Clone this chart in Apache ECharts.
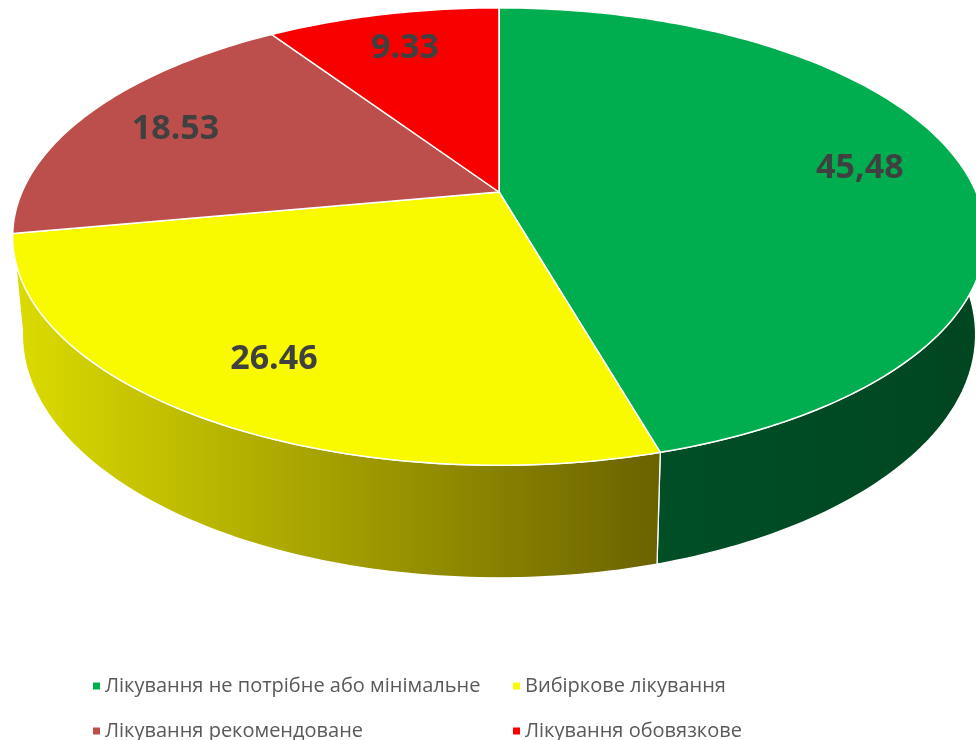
<!DOCTYPE html>
<html>
<head>
<meta charset="utf-8">
<script src="https://cdn.jsdelivr.net/npm/echarts@6/dist/echarts.min.js"></script>
<style>
  html, body { margin: 0; padding: 0; background: #fff; }
  #chart { width: 976px; height: 740px; }
</style>
</head>
<body>
<div id="chart"></div>
<script>
// дані діаграми
const names = [
  'Лікування не потрібне або мінімальне',
  'Вибіркове лікування',
  'Лікування рекомендоване',
  'Лікування обовязкове'
];
const values = [45.48, 26.46, 18.53, 9.33];
const labels = ['45,48', '26.46', '18.53', '9.33'];
const colors = ['#00AE4F', '#F9F900', '#BC4F4C', '#F90000'];
const sideColors = [
  ['#00532A', '#004620'],
  ['#DCDC00', '#6A6200'],
  ['#8A3836', '#6E2A28'],
  ['#B00000', '#900000']
];

// параметри "3D" проекції
const CX = 499, CY = 192, RX = 477, RY = 220, P = 0.195, DEPTH = 95, SHRINK = 0.98;
const total = values.reduce((a, b) => a + b, 0);
const starts = [];
let acc = 0;
values.forEach((v) => { starts.push(acc / total * Math.PI * 2); acc += v; });

function project(u, v, bottom) {
  const w = 1 - P * v;
  const s = bottom ? SHRINK : 1;
  return [CX + RX * u / w * s, CY + RY * v / w * s + (bottom ? DEPTH / w : 0)];
}
function rim(phi, r, bottom) {
  return project(r * Math.sin(phi), -r * Math.cos(phi), bottom);
}
function arc(a0, a1, bottom) {
  const n = Math.max(2, Math.ceil((a1 - a0) / (Math.PI / 180)));
  const pts = [];
  for (let k = 0; k <= n; k++) pts.push(rim(a0 + (a1 - a0) * k / n, 1, bottom));
  return pts;
}
function angles(i) {
  return [starts[i], starts[i] + values[i] / total * Math.PI * 2];
}

function renderWall(i) {
  return function () {
    const [a0, a1] = angles(i);
    const top = arc(a0, a1, false);
    const bot = arc(a0, a1, true).reverse();
    return {
      type: 'polygon',
      shape: { points: top.concat(bot) },
      style: {
        fill: new echarts.graphic.LinearGradient(0, 0, 1, 0, [
          { offset: 0, color: sideColors[i][0] },
          { offset: 1, color: sideColors[i][1] }
        ]),
        stroke: '#fff',
        lineWidth: 1.3,
        lineJoin: 'round'
      }
    };
  };
}

function renderTop(i) {
  return function () {
    const [a0, a1] = angles(i);
    const pts = [project(0, 0, false)].concat(arc(a0, a1, false));
    const mid = (a0 + a1) / 2;
    const lp = rim(mid, 0.78, false);
    return {
      type: 'group',
      children: [
        {
          type: 'polygon',
          shape: { points: pts },
          style: { fill: colors[i], stroke: '#fff', lineWidth: 1.5, lineJoin: 'round' }
        },
        {
          type: 'text',
          z2: 10,
          style: {
            text: labels[i],
            x: lp[0],
            y: lp[1],
            align: 'center',
            verticalAlign: 'middle',
            fill: '#404040',
            font: 'bold 34px "Open Sans"'
          }
        }
      ]
    };
  };
}

const wallOrder = [3, 2, 0, 1];
const series = [];
wallOrder.forEach((i) => {
  series.push({
    type: 'custom', name: names[i], coordinateSystem: 'none', z: 1,
    silent: true, itemStyle: { color: colors[i] },
    data: [values[i]], renderItem: renderWall(i)
  });
});
names.forEach((n, i) => {
  series.push({
    type: 'custom', name: n, coordinateSystem: 'none', z: 2,
    silent: true, itemStyle: { color: colors[i] },
    data: [values[i]], renderItem: renderTop(i)
  });
});

const chart = echarts.init(document.getElementById('chart'));
chart.setOption({
  animation: false,
  backgroundColor: '#fff',
  legend: names.map((n, i) => ({
    data: [n],
    left: i % 2 ? 508 : 88,
    top: i < 2 ? 671 : 716,
    icon: 'rect',
    itemWidth: 7,
    itemHeight: 7,
    selectedMode: false,
    textStyle: { fontFamily: 'Open Sans', fontSize: 20, color: '#595959' }
  })),
  series: series
});
</script>
</body>
</html>
